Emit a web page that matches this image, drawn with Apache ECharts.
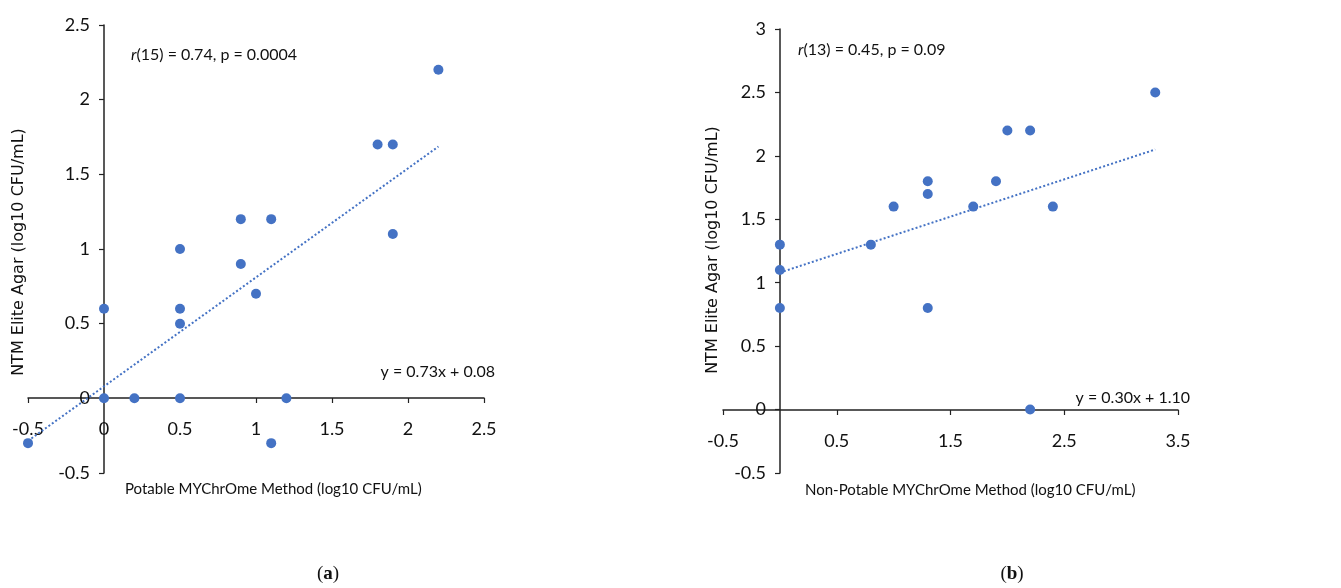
<!DOCTYPE html>
<html>
<head>
<meta charset="utf-8">
<script src="https://cdn.jsdelivr.net/npm/echarts@6/dist/echarts.min.js"></script>
<style>
  html, body { margin: 0; padding: 0; background: #fff; }
  #chart { width: 1341px; height: 588px; }
</style>
</head>
<body>
<div id="chart"></div>
<script>
// (a) potable samples
const potablePoints = [
  [2.2, 2.2], [1.8, 1.7], [1.9, 1.7], [0.9, 1.2], [1.1, 1.2], [1.9, 1.1],
  [0.5, 1.0], [0.9, 0.9], [1.0, 0.7], [0, 0.6], [0.5, 0.6], [0.5, 0.5],
  [0, 0], [0.2, 0], [0.5, 0], [1.2, 0], [-0.5, -0.3], [1.1, -0.3]
];
const potableTrend = [[-0.5, -0.285], [2.2, 1.686]];

// (b) non-potable samples
const nonPotablePoints = [
  [3.3, 2.5], [2.0, 2.2], [2.2, 2.2], [1.3, 1.8], [1.3, 1.7], [1.9, 1.8],
  [1.0, 1.6], [1.7, 1.6], [2.4, 1.6], [0.8, 1.3], [0, 1.3], [0, 1.1],
  [0, 0.8], [1.3, 0.8], [2.2, 0]
];
const nonPotableTrend = [[0, 1.08], [3.3, 2.05]];

const fontMain = "Lato, 'Open Sans', sans-serif";
const fontAxisName = "'DejaVu Sans', 'Noto Sans', sans-serif";
const dotColor = "#4472C4";
const axisColor = "#222";

let myChart = echarts.init(document.getElementById("chart"));

// axes sit on the zero lines, so they are shifted into the grid with offset
const valueAxis = (gridIndex, min, max, interval, offset, margin) => ({
    type: "value",
    gridIndex: gridIndex,
    min: min,
    max: max,
    interval: interval,
    offset: offset,
    splitLine: { show: false },
    axisLine: { show: true, onZero: false, lineStyle: { color: axisColor, width: 1.5 } },
    axisTick: { show: true, length: 5, lineStyle: { color: axisColor, width: 1.2 } },
    axisLabel: { color: "#111", fontSize: 18, fontFamily: fontMain, margin: margin }
});

const rLabel = (x, y, rest) => ({
    type: "text",
    x: x,
    y: y,
    style: {
        text: "{i|r}" + rest,
        verticalAlign: "middle",
        font: "16px " + fontMain,
        fill: "#111",
        rich: { i: { fontStyle: "italic", fontSize: 16, fontFamily: fontMain, fill: "#111" } }
    }
});

const plainText = (x, y, text, opts) => ({
    type: "text",
    x: x,
    y: y,
    rotation: opts.rotation || 0,
    style: {
        text: text,
        align: opts.align || "left",
        verticalAlign: "middle",
        font: opts.font,
        fill: "#111"
    }
});

const caption = (x, y, letter) => ({
    type: "text",
    x: x,
    y: y,
    style: {
        text: "({b|" + letter + "})",
        align: "center",
        verticalAlign: "middle",
        font: "19px 'Liberation Serif', serif",
        fill: "#111",
        rich: { b: { fontWeight: "bold", fontSize: 19, fontFamily: "'Liberation Serif', serif", fill: "#111" } }
    }
});

myChart.setOption({
    animation: false,
    grid: [
        { left: 28, top: 25, width: 456, height: 448, outerBoundsMode: "none", containLabel: false },
        { left: 723, top: 29, width: 455, height: 444, outerBoundsMode: "none", containLabel: false }
    ],
    xAxis: [
        valueAxis(0, -0.5, 2.5, 0.5, -75, 22),
        valueAxis(1, -0.5, 3.5, 1, -63, 22)
    ],
    yAxis: [
        valueAxis(0, -0.5, 2.5, 0.5, -76, 14),
        valueAxis(1, -0.5, 3, 0.5, -57, 14)
    ],
    series: [
        {
            type: "line",
            xAxisIndex: 0,
            yAxisIndex: 0,
            data: potableTrend,
            symbol: "none",
            z: 1,
            lineStyle: { color: dotColor, width: 2, type: [2, 2.2] }
        },
        {
            type: "scatter",
            xAxisIndex: 0,
            yAxisIndex: 0,
            data: potablePoints,
            symbolSize: 10,
            z: 3,
            itemStyle: { color: dotColor, opacity: 1 }
        },
        {
            type: "line",
            xAxisIndex: 1,
            yAxisIndex: 1,
            data: nonPotableTrend,
            symbol: "none",
            z: 1,
            lineStyle: { color: dotColor, width: 2, type: [2, 2.2] }
        },
        {
            type: "scatter",
            xAxisIndex: 1,
            yAxisIndex: 1,
            data: nonPotablePoints,
            symbolSize: 10,
            z: 3,
            itemStyle: { color: dotColor, opacity: 1 }
        }
    ],
    graphic: [
        rLabel(131, 55, "(15) = 0.74, p = 0.0004"),
        rLabel(798, 50, "(13) = 0.45, p = 0.09"),
        plainText(495, 372, "y = 0.73x + 0.08", { align: "right", font: "16px " + fontMain }),
        plainText(1190, 398, "y = 0.30x + 1.10", { align: "right", font: "16px " + fontMain }),
        plainText(125, 489, "Potable MYChrOme Method (log10 CFU/mL)", { font: "15px " + fontMain }),
        plainText(805, 490, "Non-Potable MYChrOme Method (log10 CFU/mL)", { font: "15px " + fontMain }),
        plainText(19, 252, "NTM Elite Agar (log10 CFU/mL)", { align: "center", rotation: Math.PI / 2, font: "16px " + fontAxisName }),
        plainText(713, 250, "NTM Elite Agar (log10 CFU/mL)", { align: "center", rotation: Math.PI / 2, font: "16px " + fontAxisName }),
        caption(328, 574, "a"),
        caption(1012, 574, "b")
    ]
});
</script>
</body>
</html>
